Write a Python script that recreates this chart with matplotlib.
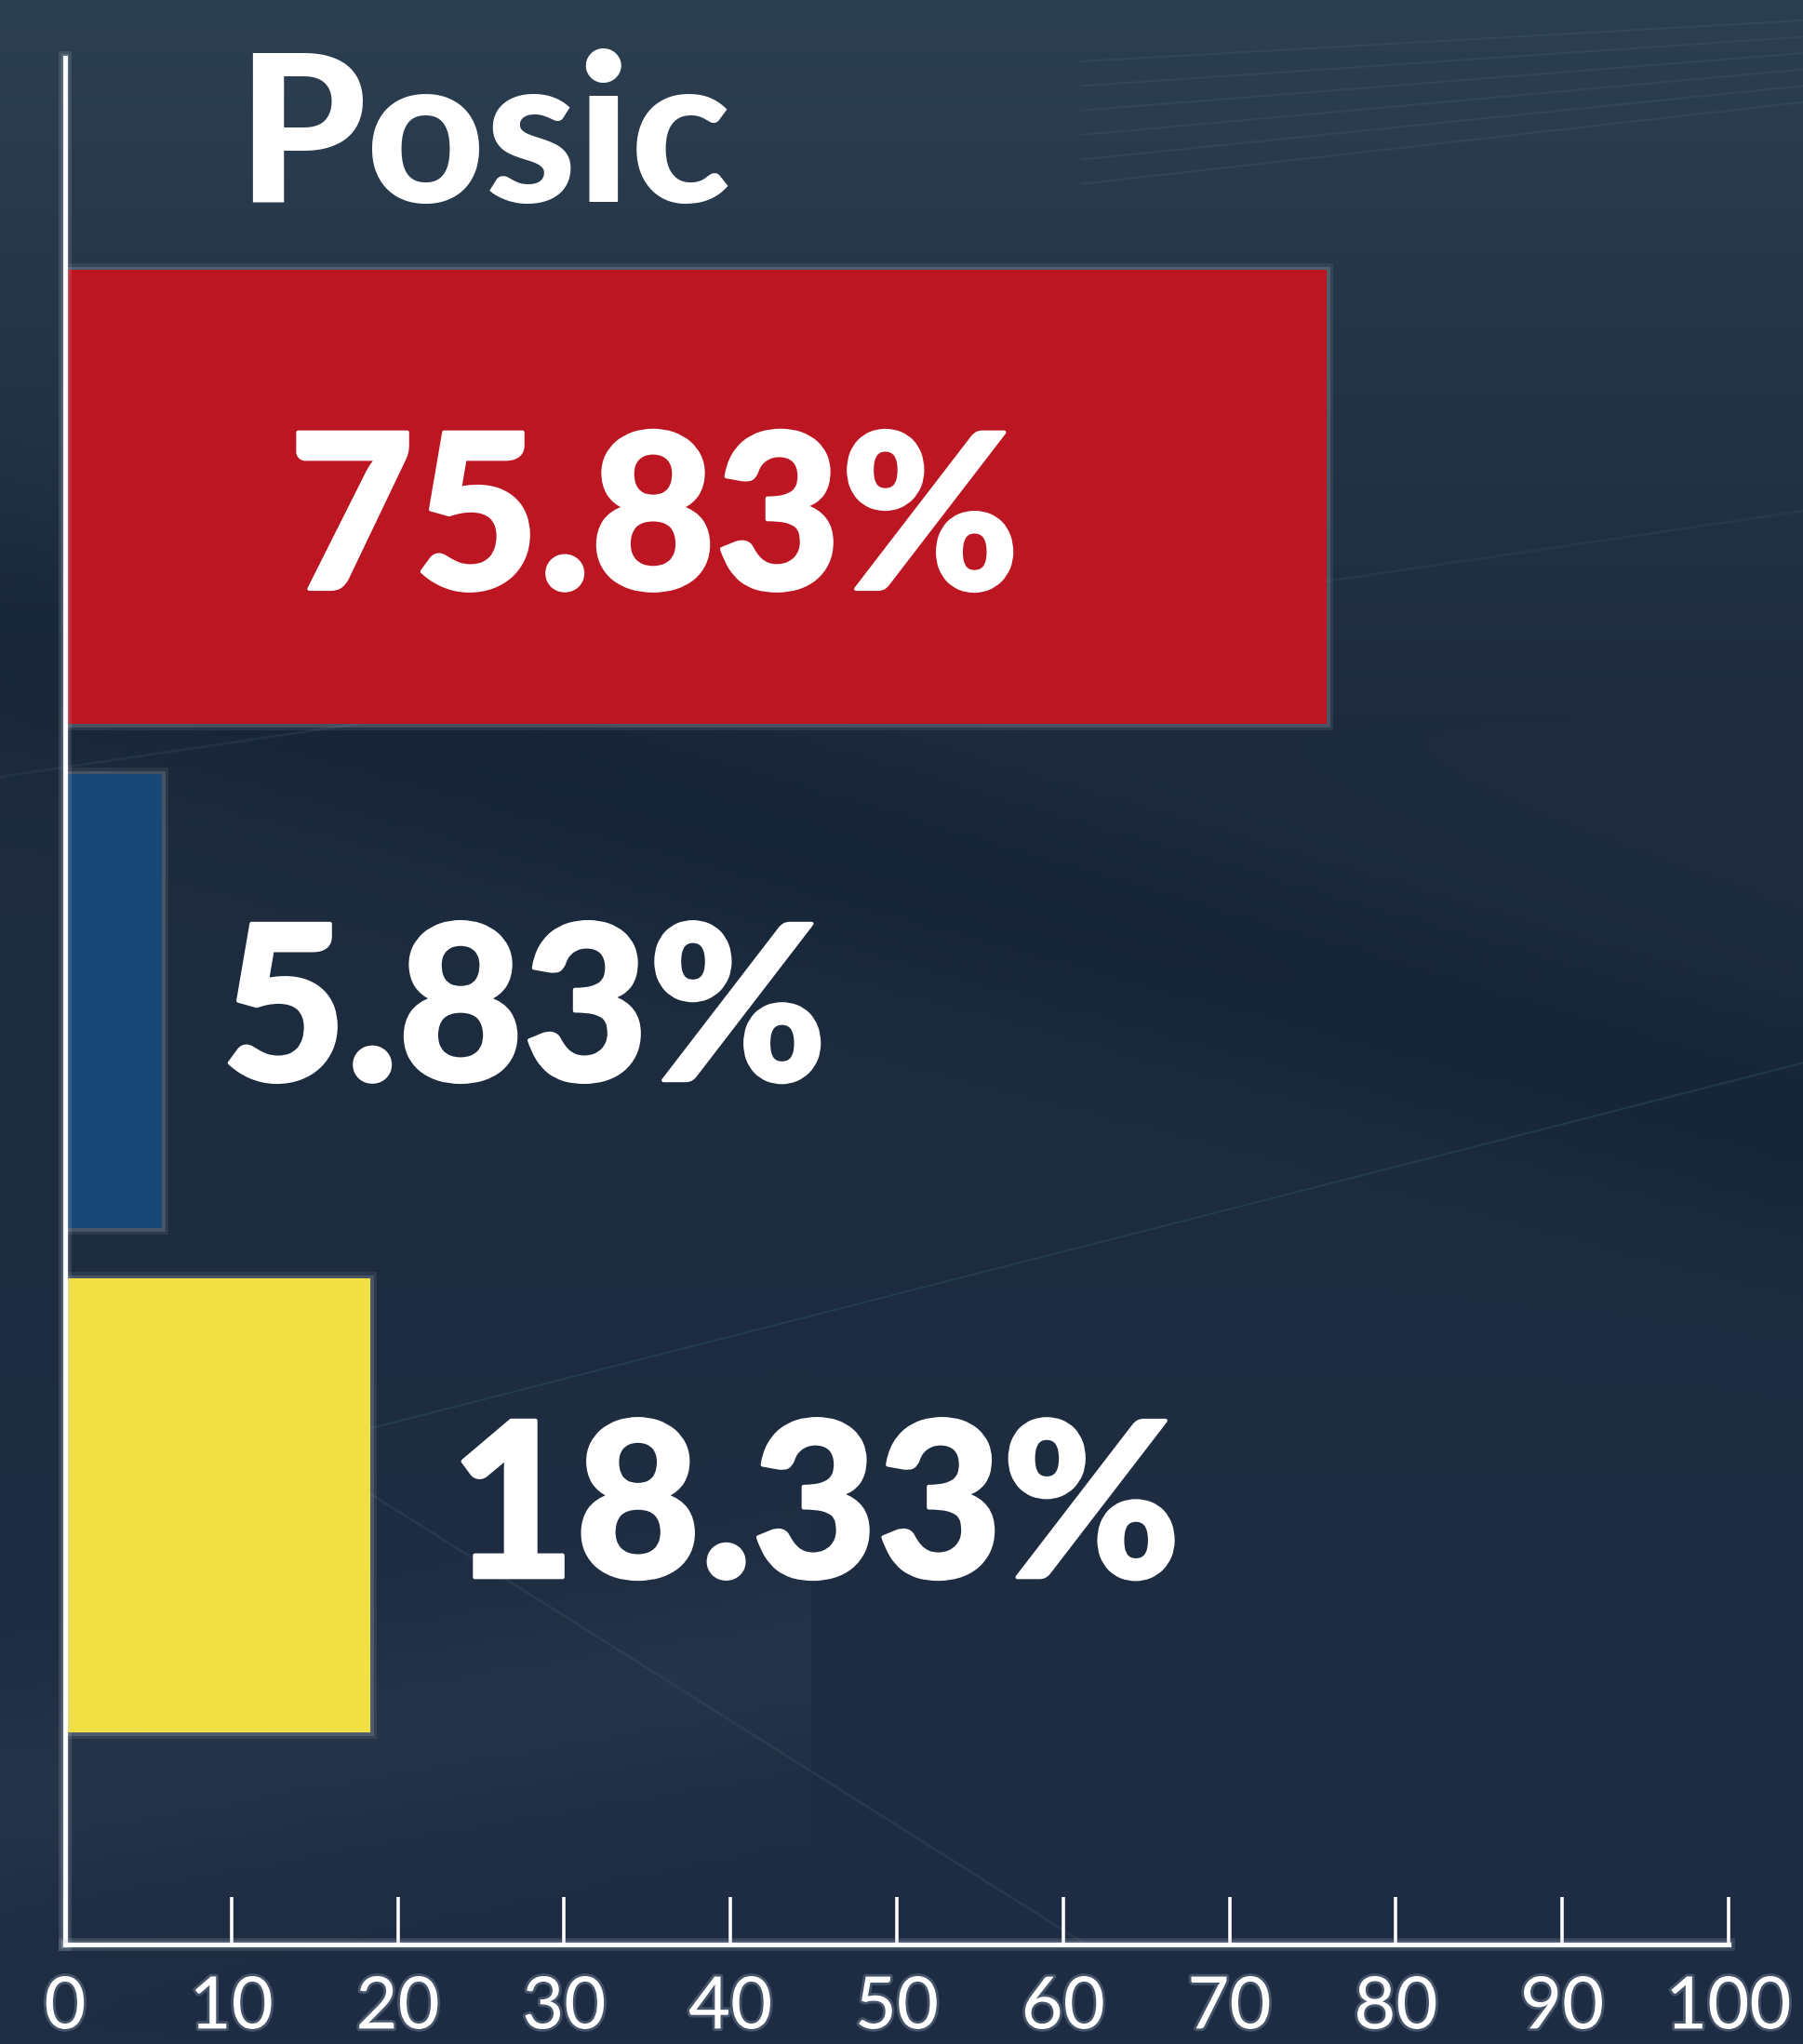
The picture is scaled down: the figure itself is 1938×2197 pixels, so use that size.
import numpy as np
import matplotlib
matplotlib.use("Agg")
import matplotlib.pyplot as plt
import matplotlib.patheffects as pe

# ---------------- data ----------------
title = "Posic"
values = [75.83, 5.83, 18.33]
labels = ["75.83%", "5.83%", "18.33%"]
bar_colors = ["#BC1622", "#174878", "#F1DF44"]
xticks = [0, 10, 20, 30, 40, 50, 60, 70, 80, 90, 100]

# layout (label left edge in data units, baseline offset in bar units)
label_x = [13.45, 9.4, 23.15]
label_dy = [0.183, 0.157, 0.142]

W, H = 1938, 2197
fig = plt.figure(figsize=(W / 100, H / 100), dpi=100)

# ---------------- background ----------------
bg = fig.add_axes([0, 0, 1, 1], zorder=0)
bg.set_axis_off()
yy, xx = np.mgrid[0:1:400j, 0:1:360j]
top = np.array([0x2c, 0x3f, 0x50]) / 255
mid = np.array([0x1d, 0x2b, 0x3d]) / 255
bot = np.array([0x1f, 0x2d, 0x44]) / 255
t = yy[..., None]
grad = np.where(t < 0.35, top + (mid - top) * (t / 0.35), mid + (bot - mid) * ((t - 0.35) / 0.65))
band = np.exp(-((yy - 0.30 - 0.25 * xx) / 0.06) ** 2)
grad = grad - 0.025 * band[..., None]
band2 = np.exp(-((yy - 0.88 + 0.15 * xx) / 0.05) ** 2) * (xx < 0.45)
grad = grad + 0.03 * band2[..., None]
bg.imshow(np.clip(grad, 0, 1), extent=[0, 1, 0, 1], aspect="auto", origin="upper")
for k in range(6):
    bg.plot([0.60, 1.0], [0.97 - k * 0.012, 0.99 - k * 0.008], color="#3a5062", lw=1.5, alpha=0.5)
bg.plot([0.0, 1.0], [0.62, 0.75], color="#33485a", lw=2, alpha=0.35)
bg.plot([0.2, 1.0], [0.30, 0.48], color="#2f5a6a", lw=1.5, alpha=0.35)
bg.plot([0.15, 0.60], [0.30, 0.05], color="#3a5062", lw=2, alpha=0.35)
bg.set_xlim(0, 1)
bg.set_ylim(0, 1)

# ---------------- main axes ----------------
ax = fig.add_axes([70 / W, 1 - 2090 / H, (1858 - 70) / W, (2090 - 62) / H], zorder=2)
ax.patch.set_alpha(0)

ypos = np.arange(len(values))
glow = [pe.Stroke(linewidth=10, foreground="#b8c4d0", alpha=0.10),
        pe.Stroke(linewidth=5, foreground="#c8d2dc", alpha=0.18),
        pe.Normal()]
bars = ax.barh(ypos, values, height=0.9, color=bar_colors, edgecolor="none", zorder=3)
for b in bars:
    b.set_path_effects(glow)

ax.set_xlim(0, 100)
ax.set_ylim(2.87, -0.87)

for yv, txt, lx, dy in zip(ypos, labels, label_x, label_dy):
    ax.text(lx, yv + dy, txt, ha="left", va="baseline", color="white",
            fontsize=167, fontfamily="Lato", fontweight="black", zorder=5,
            path_effects=[pe.withStroke(linewidth=3, foreground="white")])

for side in ["top", "right"]:
    ax.spines[side].set_visible(False)
for side in ["left", "bottom"]:
    sp = ax.spines[side]
    sp.set_color("white")
    sp.set_linewidth(3.5)
    sp.set_path_effects([pe.Stroke(linewidth=10, foreground="#c8d2dc", alpha=0.15),
                         pe.Stroke(linewidth=6, foreground="#c8d2dc", alpha=0.2), pe.Normal()])
    sp.set_zorder(4)

ax.set_yticks([])
ax.set_xticks(xticks)
ax.set_xticklabels([str(v) for v in xticks])
ax.tick_params(axis="x", direction="in", length=37, width=2.6, color="white",
               labelcolor="white", labelsize=56, pad=24)
for lab in ax.get_xticklabels():
    lab.set_fontfamily("Lato")
    lab.set_fontweight("normal")
    lab.set_path_effects([pe.withStroke(linewidth=4, foreground="#9fb0c0", alpha=0.3)])

fig.text(254 / W, 1 - 217 / H, title, ha="left", va="baseline", color="white",
         fontsize=160, fontfamily="Lato", fontweight="black", zorder=5)

fig.savefig("out.png", dpi=100)
